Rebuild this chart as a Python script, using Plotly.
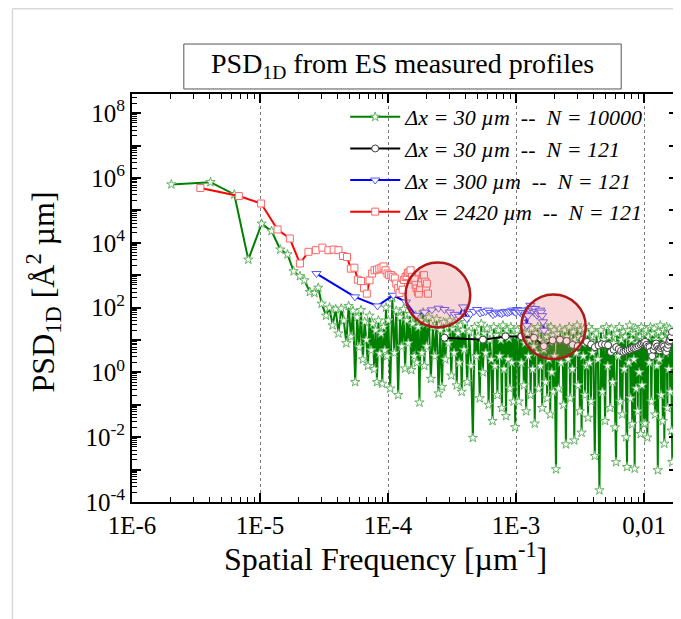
import numpy as np
import plotly.graph_objects as go

# ---------------- data (frequencies in µm^-1, PSD stored as log10 of Å² µm) -------------
# Δx = 30 µm -- N = 10000 (green)
green_f = [
    2.03e-6, 4.10e-6, 6.30e-6, 8.10e-6, 1.03e-5, 1.23e-5, 1.44e-5, 1.64e-5, 1.83e-5, 2.05e-5,
    2.22e-5, 2.45e-5, 2.66e-5, 2.85e-5, 3.03e-5,
    3.28e-5, 3.49e-5, 3.69e-5, 3.90e-5, 4.10e-5, 4.31e-5, 4.51e-5, 4.72e-5, 4.92e-5, 5.13e-5,
    5.33e-5, 5.54e-5, 5.74e-5, 5.95e-5, 6.15e-5, 6.36e-5, 6.56e-5, 6.77e-5, 6.97e-5, 7.18e-5,
    7.38e-5, 7.59e-5, 7.79e-5, 8.00e-5, 8.20e-5, 8.41e-5, 8.61e-5, 8.82e-5, 9.02e-5, 9.23e-5,
    9.43e-5, 9.64e-5, 9.84e-5, 1.005e-4,
    1.04e-4, 1.08e-4, 1.12e-4, 1.16e-4, 1.20e-4, 1.24e-4, 1.28e-4, 1.32e-4, 1.36e-4, 1.40e-4,
    1.44e-4, 1.48e-4, 1.52e-4, 1.56e-4, 1.60e-4, 1.64e-4, 1.68e-4, 1.72e-4, 1.76e-4, 1.80e-4,
    1.84e-4, 1.88e-4, 1.92e-4, 1.96e-4, 2.00e-4,
    2.08e-4, 2.16e-4, 2.24e-4, 2.32e-4, 2.40e-4, 2.48e-4, 2.56e-4, 2.64e-4, 2.72e-4, 2.80e-4,
    2.88e-4, 2.96e-4, 3.04e-4, 3.12e-4, 3.20e-4, 3.28e-4, 3.36e-4, 3.44e-4, 3.52e-4, 3.60e-4,
    3.68e-4, 3.76e-4, 3.84e-4, 3.92e-4, 4.00e-4,
    4.15e-4, 4.30e-4, 4.45e-4, 4.60e-4, 4.75e-4, 4.90e-4, 5.05e-4, 5.20e-4, 5.35e-4, 5.50e-4,
    5.65e-4, 5.80e-4, 5.95e-4, 6.10e-4, 6.25e-4, 6.40e-4, 6.55e-4, 6.70e-4, 6.85e-4, 7.00e-4,
    7.15e-4, 7.30e-4, 7.45e-4, 7.60e-4, 7.75e-4, 7.90e-4, 8.05e-4, 8.20e-4, 8.35e-4, 8.50e-4,
    8.65e-4, 8.80e-4, 8.95e-4, 9.10e-4, 9.25e-4, 9.40e-4, 9.55e-4, 9.70e-4, 9.85e-4, 1.00e-3,
    1.025e-3, 1.050e-3, 1.075e-3, 1.100e-3, 1.125e-3, 1.150e-3, 1.175e-3, 1.200e-3, 1.225e-3, 1.250e-3,
    1.275e-3, 1.300e-3, 1.325e-3, 1.350e-3, 1.375e-3, 1.400e-3, 1.425e-3, 1.450e-3, 1.475e-3, 1.500e-3,
    1.525e-3, 1.550e-3, 1.575e-3, 1.600e-3, 1.625e-3, 1.650e-3, 1.675e-3, 1.700e-3, 1.725e-3, 1.750e-3,
    1.775e-3, 1.800e-3, 1.825e-3, 1.850e-3, 1.875e-3, 1.900e-3, 1.925e-3, 1.950e-3, 1.975e-3, 2.000e-3,
    2.05e-3, 2.10e-3, 2.15e-3, 2.20e-3, 2.25e-3, 2.30e-3, 2.35e-3, 2.40e-3, 2.45e-3, 2.50e-3,
    2.55e-3, 2.60e-3, 2.65e-3, 2.70e-3, 2.75e-3, 2.80e-3, 2.85e-3, 2.90e-3, 2.95e-3, 3.00e-3,
    3.05e-3, 3.10e-3, 3.15e-3, 3.20e-3, 3.25e-3, 3.30e-3, 3.35e-3, 3.40e-3, 3.45e-3, 3.50e-3,
    3.55e-3, 3.60e-3, 3.65e-3, 3.70e-3, 3.75e-3, 3.80e-3, 3.85e-3, 3.90e-3, 3.95e-3, 4.00e-3,
    4.12e-3, 4.24e-3, 4.36e-3, 4.48e-3, 4.60e-3, 4.72e-3, 4.84e-3, 4.96e-3, 5.08e-3, 5.20e-3,
    5.32e-3, 5.44e-3, 5.56e-3, 5.68e-3, 5.80e-3, 5.92e-3, 6.04e-3, 6.16e-3, 6.28e-3, 6.40e-3,
    6.52e-3, 6.64e-3, 6.76e-3, 6.88e-3, 7.00e-3, 7.12e-3, 7.24e-3, 7.36e-3, 7.48e-3, 7.60e-3,
    7.72e-3, 7.84e-3, 7.96e-3, 8.08e-3, 8.20e-3, 8.32e-3, 8.44e-3, 8.56e-3, 8.68e-3, 8.80e-3,
    8.92e-3, 9.04e-3, 9.16e-3, 9.28e-3, 9.40e-3, 9.52e-3, 9.64e-3, 9.76e-3, 9.88e-3, 1.000e-2,
    1.02e-2, 1.04e-2, 1.06e-2, 1.08e-2, 1.10e-2, 1.12e-2, 1.14e-2, 1.16e-2, 1.18e-2, 1.20e-2,
    1.22e-2, 1.24e-2, 1.26e-2, 1.28e-2, 1.30e-2, 1.32e-2, 1.34e-2, 1.36e-2, 1.38e-2, 1.40e-2,
    1.42e-2, 1.44e-2, 1.46e-2, 1.48e-2, 1.50e-2, 1.52e-2, 1.54e-2, 1.56e-2, 1.58e-2, 1.60e-2,
    1.62e-2, 1.64e-2, 1.66e-2, 1.67e-2,
]
green_log_psd = [
    5.80, 5.87, 5.49, 3.48, 4.59, 4.36, 3.79, 3.64, 3.12, 2.97,
    2.84, 2.48, 2.45, 2.61, 2.12,
    1.75, 2.0, 1.45, 1.95, 1.2, 1.97, 1.6, 0.9, 2.05, 1.1,
    1.9, -0.3, 1.7, 0.78, 1.92, 0.4, 1.56, 1.0, 0.2, 1.75,
    0.68, 1.5, 0.1, 1.3, -0.3, 1.6, 0.58, 1.2, -0.35, 1.4,
    0.68, 2.0, 0.5, 1.6,
    -0.5, 2.3, 0.6, 1.9, -0.7, 1.7, 0.8, 1.95, 0.12, 1.6,
    0.9, 1.8, 0.07, 1.5, 0.5, 1.75, 0.3, 1.4, -0.93, 1.6,
    0.6, 1.85, 0.2, 1.5, 0.8,
    1.7, -0.2, 1.4, 0.5, 1.65, -0.65, 1.3, -0.45, 1.55, 0.4,
    1.2, 0.9, 1.6, -0.1, 1.35, 0.6, 1.5, -0.40, 1.2, 0.3,
    1.45, -0.6, 1.3, 0.7, 1.55,
    -0.3, 1.25, 0.2, -2.02, 1.4, 0.5, 1.1, -0.8, 1.5, 0.0,
    1.2, 0.6, 1.35, -1.0, 1.0, 0.4, -1.5, 1.4, 0.2, 1.15,
    -0.7, 1.3, 0.5, 1.0, -1.1, 1.45, 0.1, 1.2, -1.35, 1.3,
    0.4, 1.05, -0.5, 1.4, 0.3, 1.15, -0.9, 1.3, -1.69, 1.2,
    1.3, -0.9, 1.1, 0.3, 1.4, -0.4, 0.9, -1.2, 1.2, 0.5,
    1.0, -0.7, 1.35, 0.1, 0.8, -1.58, 1.2, 0.6, 1.4, -0.5,
    1.0, 0.2, 1.3, -1.1, 0.9, 0.7, 1.45, -0.3, 1.1, -0.8,
    1.25, 0.4, 0.95, -1.3, 1.4, 0.0, 1.15, -0.6, 1.3, 0.5,
    -2.99, 1.2, -0.5, 1.35, 0.3, 1.0, -1.0, 1.3, -2.22, 1.1,
    0.4, 1.4, -0.8, 0.9, 0.1, 1.25, -2.10, 1.0, 0.6, 1.45,
    -0.4, 1.1, -1.2, 1.3, -1.86, 0.9, 0.5, 1.35, -0.7, 1.0,
    0.2, 1.2, -1.4, 1.4, 0.3, 0.95, -0.9, 1.3, 0.6, 1.1,
    -2.58, 1.2, 0.4, -3.64, 1.3, -0.6, 1.0, -1.5, 1.4, 0.2,
    1.1, -1.1, 1.35, -0.3, 0.9, -1.7, -2.77, 1.2, 0.5, 1.4,
    -0.9, 1.0, -1.3, 1.25, 0.1, 1.1, -2.0, -2.92, 1.3, 0.3,
    1.45, -0.8, 1.0, -1.6, 1.2, 0.4, -2.97, 1.35, -0.5, 0.9,
    -1.2, 1.3, 0.0, 1.1, -1.9, 1.4, -0.4, 1.0, -1.58, 1.2,
    -1.58, 1.3, -2.01, 1.1, 0.3, 1.4, -0.9, 1.2, 0.5, 1.35,
    -1.3, 1.0, 0.2, -3.02, 1.25, 0.4, 1.45, -0.7, 1.1, -1.5,
    1.3, -2.2, 1.0, 0.6, 1.4, -1.1, 1.2, 0.1, 1.35, -0.6,
    1.1, -1.8, -2.77, 1.2,
]

# Δx = 30 µm -- N = 121 (black)
black_f = [
    2.76e-4, 5.51e-4, 8.27e-4, 1.10e-3, 1.38e-3, 1.65e-3, 1.93e-3, 2.20e-3, 2.48e-3, 2.76e-3,
    3.03e-3, 3.31e-3, 3.58e-3, 3.86e-3, 4.13e-3, 4.41e-3, 4.68e-3, 4.96e-3, 5.23e-3, 5.51e-3,
    5.79e-3, 6.06e-3, 6.34e-3, 6.61e-3, 6.89e-3, 7.16e-3, 7.44e-3, 7.71e-3, 7.99e-3, 8.27e-3,
    8.54e-3, 8.82e-3, 9.09e-3, 9.37e-3, 9.64e-3, 9.92e-3, 1.019e-2, 1.047e-2, 1.074e-2, 1.102e-2,
    1.130e-2, 1.157e-2, 1.185e-2, 1.212e-2, 1.240e-2, 1.267e-2, 1.295e-2, 1.322e-2, 1.350e-2, 1.378e-2,
    1.405e-2, 1.433e-2, 1.460e-2, 1.488e-2, 1.515e-2, 1.543e-2, 1.570e-2, 1.598e-2, 1.625e-2, 1.653e-2,
]
black_log_psd = [
    1.07, 1.01, 1.11, 1.11, 1.07, 0.81, 0.99, 1.01, 0.97, 0.85,
    0.81, 1.01, 0.94, 0.86, 0.78, 0.83, 0.87, 0.86, 0.84, 0.63,
    0.70, 0.78, 0.72, 0.66, 0.63, 0.65, 0.68, 0.70, 0.73, 0.76,
    0.75, 0.78, 0.82, 0.86, 0.89, 0.92, 0.94, 0.85, 0.80, 0.78,
    0.65, 0.50, 0.70, 0.80, 0.89, 0.80, 0.72, 0.68, 0.75, 0.80,
    0.84, 0.80, 0.70, 0.63, 0.75, 0.85, 0.95, 0.99, 1.10, 1.25,
]

# Δx = 300 µm -- N = 121 (blue)
blue_f = [
    2.76e-5, 5.51e-5, 8.27e-5, 1.10e-4, 1.38e-4, 1.65e-4, 1.93e-4, 2.20e-4, 2.48e-4, 2.76e-4,
    3.03e-4, 3.31e-4, 3.58e-4, 3.86e-4, 4.13e-4, 4.41e-4, 4.68e-4, 4.96e-4, 5.23e-4, 5.51e-4,
    5.79e-4, 6.06e-4, 6.34e-4, 6.61e-4, 6.89e-4, 7.16e-4, 7.44e-4, 7.71e-4, 7.99e-4, 8.27e-4,
    8.54e-4, 8.82e-4, 9.09e-4, 9.37e-4, 9.64e-4, 9.92e-4, 1.019e-3, 1.047e-3, 1.074e-3, 1.102e-3,
    1.130e-3, 1.157e-3, 1.185e-3, 1.212e-3, 1.240e-3, 1.267e-3, 1.295e-3, 1.322e-3, 1.350e-3, 1.378e-3,
    1.405e-3, 1.433e-3, 1.460e-3, 1.488e-3, 1.515e-3, 1.543e-3, 1.570e-3, 1.598e-3, 1.625e-3, 1.653e-3,
]
blue_log_psd = [
    3.05, 2.33, 2.05, 2.38, 2.17, 1.76, 1.86, 1.93, 1.98, 1.94,
    1.86, 1.79, 1.73, 2.02, 1.66, 1.81, 1.88, 1.94, 1.83, 1.86,
    1.88, 1.92, 1.85, 1.78, 1.82, 1.86, 1.83, 1.81, 1.85, 1.88,
    1.84, 1.86, 1.89, 1.92, 1.88, 1.85, 1.94, 1.90, 1.86, 1.92,
    1.85, 1.71, 1.80, 1.45, 1.75, 1.95, 2.07, 1.98, 1.90, 1.85,
    1.97, 1.88, 1.76, 1.82, 1.88, 1.92, 1.86, 1.75, 1.56, 1.30,
]

# Δx = 2420 µm -- N = 121 (red)
red_f = [
    3.42e-6, 6.83e-6, 1.02e-5, 1.37e-5, 1.71e-5, 2.05e-5, 2.39e-5, 2.73e-5, 3.07e-5, 3.42e-5,
    3.76e-5, 4.10e-5, 4.44e-5, 4.78e-5, 5.12e-5, 5.46e-5, 5.81e-5, 6.15e-5, 6.49e-5, 6.83e-5,
    7.17e-5, 7.51e-5, 7.85e-5, 8.20e-5, 8.54e-5, 8.88e-5, 9.22e-5, 9.56e-5, 9.90e-5, 1.02e-4,
    1.06e-4, 1.09e-4, 1.13e-4, 1.16e-4, 1.20e-4, 1.23e-4, 1.26e-4, 1.30e-4, 1.33e-4, 1.37e-4,
    1.40e-4, 1.43e-4, 1.47e-4, 1.50e-4, 1.54e-4, 1.57e-4, 1.61e-4, 1.64e-4, 1.67e-4, 1.71e-4,
    1.74e-4, 1.78e-4, 1.81e-4, 1.84e-4, 1.88e-4, 1.91e-4, 1.95e-4, 1.98e-4, 2.01e-4, 2.05e-4,
]
red_log_psd = [
    5.69, 5.44, 5.21, 4.41, 4.13, 3.36, 3.72, 3.77, 3.85, 3.77,
    3.79, 3.77, 3.59, 3.56, 3.20, 3.23, 2.86, 2.82, 2.60, 2.43,
    2.84, 3.05, 3.15, 3.17, 3.20, 3.23, 3.27, 3.15, 3.05, 3.00,
    3.00, 2.95, 2.90, 2.74, 2.60, 2.45, 2.70, 2.55, 2.85, 2.94,
    2.97, 3.07, 3.10, 3.15, 2.95, 2.85, 2.87, 2.70, 2.59, 2.48,
    2.43, 2.60, 2.75, 2.90, 3.00, 3.00, 2.80, 2.59, 2.74, 2.43,
]

series_names = [
    "<i>Δx = 30 µm\u00a0\u00a0--\u00a0\u00a0N = 10000</i>",
    "<i>Δx = 30 µm\u00a0\u00a0--\u00a0\u00a0N = 121</i>",
    "<i>Δx = 300 µm\u00a0\u00a0--\u00a0\u00a0N = 121</i>",
    "<i>Δx = 2420 µm\u00a0\u00a0--\u00a0\u00a0N = 121</i>",
]

x_tick_vals = [1e-6, 1e-5, 1e-4, 1e-3, 1e-2]
x_tick_text = ["1E-6", "1E-5", "1E-4", "1E-3", "0,01"]
y_tick_vals = [10.0 ** e for e in range(-4, 9)]
y_tick_text = [("10<sup>%d</sup>" % e) if e % 2 == 0 else "" for e in range(-4, 9)]

for a, b in [(green_f, green_log_psd), (black_f, black_log_psd),
             (blue_f, blue_log_psd), (red_f, red_log_psd)]:
    assert len(a) == len(b), (len(a), len(b))

FONT = "Liberation Serif"

fig = go.Figure()

def add_series(name, f, lp, color, symbol, mcolor, msize):
    fig.add_trace(go.Scatter(
        x=f, y=np.power(10.0, np.array(lp)), mode="lines+markers", name=name,
        line=dict(color=color, width=2),
        marker=dict(symbol=symbol, size=msize, color="white",
                    line=dict(color=mcolor, width=1)),
        cliponaxis=True,
    ))

add_series(series_names[0], green_f, green_log_psd, "#008000", "star", "#5fb35f", 7)
add_series(series_names[1], black_f, black_log_psd, "#000000", "circle", "#404040", 7)
add_series(series_names[2], blue_f, blue_log_psd, "#0000ff", "triangle-down", "#5555ff", 8)
add_series(series_names[3], red_f, red_log_psd, "#ff0000", "square", "#ff6666", 7)

minor_x = [m * 10.0 ** e for e in range(-6, -1) for m in range(2, 10)]
minor_y = [m * 10.0 ** e for e in range(-4, 9) for m in range(2, 10)]

fig.update_xaxes(
    type="log", range=[-6, -1.735],
    tickmode="array", tickvals=x_tick_vals, ticktext=x_tick_text,
    showline=True, linecolor="black", linewidth=2, mirror="allticks",
    ticks="inside", ticklen=9, tickwidth=1.5, tickcolor="black",
    showgrid=True, gridcolor="#777777", griddash="dot", gridwidth=1,
    zeroline=False,
    tickfont=dict(family=FONT, size=25, color="black"),
    minor=dict(tickmode="array", tickvals=minor_x, ticks="inside", ticklen=5,
               tickwidth=1, tickcolor="black", showgrid=False),
)
fig.update_yaxes(
    type="log", range=[-4, 8.59],
    tickmode="array", tickvals=y_tick_vals, ticktext=y_tick_text,
    showline=True, linecolor="black", linewidth=2, mirror="allticks",
    ticks="inside", ticklen=9, tickwidth=1.5, tickcolor="black",
    showgrid=False, zeroline=False,
    tickfont=dict(family=FONT, size=25, color="black"),
    minor=dict(tickmode="array", tickvals=minor_y, ticks="inside", ticklen=5,
               tickwidth=1, tickcolor="black", showgrid=False),
)

shapes = [
    # outer light frame
    dict(type="line", xref="paper", yref="paper", x0=-0.219, x1=-0.219, y0=-0.30, y1=1.209,
         line=dict(color="#d9d9d9", width=1.5)),
    dict(type="line", xref="paper", yref="paper", x0=-0.219, x1=1.01, y0=1.209, y1=1.209,
         line=dict(color="#d9d9d9", width=1.5)),
    # title box
    dict(type="rect", xref="paper", yref="paper", x0=0.0949, x1=0.896, y0=1.0123, y1=1.1225,
         line=dict(color="#555555", width=1), fillcolor="rgba(0,0,0,0)"),
    # highlight circles
    dict(type="circle", xref="paper", yref="paper", x0=0.501, x1=0.6195, y0=0.4277, y1=0.587,
         line=dict(color="#b01818", width=2.5), fillcolor="rgba(225,110,110,0.28)", layer="above"),
    dict(type="circle", xref="paper", yref="paper", x0=0.713, x1=0.831, y0=0.3505, y1=0.5088,
         line=dict(color="#b01818", width=2.5), fillcolor="rgba(225,110,110,0.28)", layer="above"),
]

annotations = [
    dict(text="PSD<sub>1D</sub> from ES measured profiles", xref="paper", yref="paper",
         x=0.495, y=1.069, xanchor="center", yanchor="middle", showarrow=False,
         font=dict(family=FONT, size=28, color="black")),
    dict(text="Spatial Frequency [µm<sup>-1</sup>]", xref="paper", yref="paper",
         x=0.465, y=-0.135, xanchor="center", yanchor="middle", showarrow=False,
         font=dict(family=FONT, size=32, color="black")),
    dict(text="PSD<sub>1D</sub> [Å<sup>2</sup> µm]", xref="paper", yref="paper",
         x=-0.162, y=0.515, xanchor="center", yanchor="middle", showarrow=False,
         textangle=-90, font=dict(family=FONT, size=32, color="black")),
]

fig.update_layout(
    width=673, height=611,
    margin=dict(l=124, r=1, t=86, b=117),
    paper_bgcolor="white", plot_bgcolor="white",
    font=dict(family=FONT, color="black"),
    showlegend=True,
    legend=dict(x=0.3905, y=0.995, xanchor="left", yanchor="top",
                bgcolor="rgba(0,0,0,0)", borderwidth=0,
                font=dict(family=FONT, size=22, color="black"),
                itemwidth=50, tracegroupgap=0),
    shapes=shapes, annotations=annotations,
)

fig.write_html("out.html")
